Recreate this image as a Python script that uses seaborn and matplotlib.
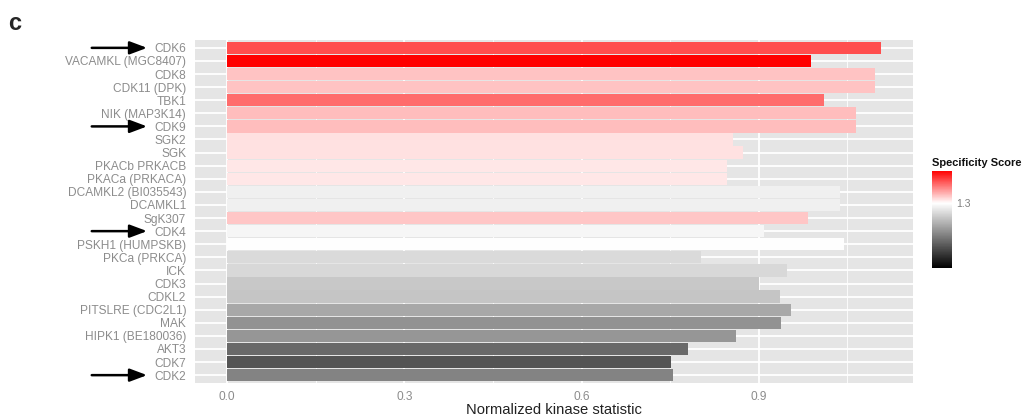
import numpy as np
import pandas as pd
import seaborn as sns
import matplotlib
matplotlib.use("Agg")
import matplotlib.pyplot as plt
from matplotlib.colors import LinearSegmentedColormap, Normalize
from matplotlib.cm import ScalarMappable

kinases = ["CDK6", "VACAMKL (MGC8407)", "CDK8", "CDK11 (DPK)", "TBK1",
           "NIK (MAP3K14)", "CDK9", "SGK2", "SGK", "PKACb PRKACB",
           "PKACa (PRKACA)", "DCAMKL2 (BI035543)", "DCAMKL1", "SgK307", "CDK4",
           "PSKH1 (HUMPSKB)", "PKCa (PRKCA)", "ICK", "CDK3", "CDKL2",
           "PITSLRE (CDC2L1)", "MAK", "HIPK1 (BE180036)", "AKT3", "CDK7", "CDK2"]
stat = [1.106, 0.989, 1.096, 1.096, 1.010,
        1.065, 1.065, 0.856, 0.873, 0.846,
        0.846, 1.037, 1.037, 0.983, 0.909,
        1.044, 0.803, 0.947, 0.900, 0.936,
        0.954, 0.937, 0.861, 0.780, 0.751, 0.755]
score = [1.575, 1.700, 1.394, 1.394, 1.527,
         1.402, 1.402, 1.347, 1.347, 1.339,
         1.339, 1.253, 1.253, 1.386, 1.272,
         1.294, 1.184, 1.175, 1.127, 1.118,
         1.027, 0.955, 0.971, 0.829, 0.767, 0.908]
marked = ["CDK6", "CDK9", "CDK4", "CDK2"]
x_ticks = [0.0, 0.3, 0.6, 0.9]
x_minor = [0.15, 0.45, 0.75, 1.05]
legend_ticks = [1.3]

df = pd.DataFrame({"kinase": kinases, "stat": stat, "score": score})

sns.set_theme(style="white")
plt.rcParams["font.family"] = ["Liberation Sans", "DejaVu Sans"]

cmap = LinearSegmentedColormap.from_list(
    "spec", [(0.0, "black"), (2 / 3, "white"), (1.0, "#ff0000")])
norm = Normalize(vmin=0.5, vmax=1.7)
colors = [cmap(norm(s)) for s in df["score"]]

fig = plt.figure(figsize=(10.24, 4.18), dpi=100)
ax = fig.add_axes([194.5 / 1024, 1 - 383 / 418, 718.5 / 1024, 343 / 418])
ax.set_facecolor("#e5e5e5")

sns.barplot(data=df, x="stat", y="kinase", hue="kinase", palette=colors,
            legend=False, width=0.94, saturation=1, orient="h", ax=ax,
            linewidth=0)

n = len(kinases)
ax.set_xlim(-0.055, 1.161)
ax.set_ylim(n - 1 + 0.6, -0.6)
ax.set_xticks(x_ticks)
ax.set_xticklabels([f"{t:.1f}" for t in x_ticks])
ax.set_xticks(x_minor, minor=True)
ax.set_axisbelow(True)
ax.grid(True, which="major", color="white", lw=1.3)
ax.xaxis.grid(True, which="minor", color="white", lw=0.6)
for s in ax.spines.values():
    s.set_visible(False)

ax.tick_params(axis="both", which="major", length=3, width=0.8, color="#7f7f7f",
               labelcolor="#8c8c8c", labelsize=8.6, pad=3)
ax.tick_params(axis="x", which="minor", length=0)
ax.set_ylabel("")
ax.set_xlabel("Normalized kinase statistic", fontsize=10.6, color="#222222", labelpad=0)

# arrows pointing at the highlighted CDKs
trans = ax.get_yaxis_transform()
for name in marked:
    idx = kinases.index(name)
    ax.annotate("", xy=(-0.066, idx), xytext=(-0.143, idx),
                xycoords=trans, textcoords=trans, annotation_clip=False,
                arrowprops=dict(arrowstyle="-|>,head_length=0.8,head_width=0.3",
                                color="black", lw=1.8,
                                mutation_scale=13, shrinkA=0, shrinkB=0))

# colour bar legend
cax = fig.add_axes([931.7 / 1024, 1 - 268 / 418, 20 / 1024, 97.3 / 418])
cb = fig.colorbar(ScalarMappable(norm=norm, cmap=cmap), cax=cax, ticks=legend_ticks)
cb.outline.set_visible(False)
cb.ax.tick_params(length=0, labelsize=7.5, labelcolor="#7f7f7f", pad=3)
cb.ax.set_yticklabels([f"{t:.1f}" for t in legend_ticks])
fig.text(932 / 1024, 1 - 162.7 / 418, "Specificity Score", fontsize=8,
         fontweight="bold", color="#111111", va="center", ha="left")

fig.text(8 / 1024, 1 - 23.5 / 418, "c", fontsize=17, fontweight="bold", va="center", ha="left")

fig.savefig("out.png", dpi=100)
